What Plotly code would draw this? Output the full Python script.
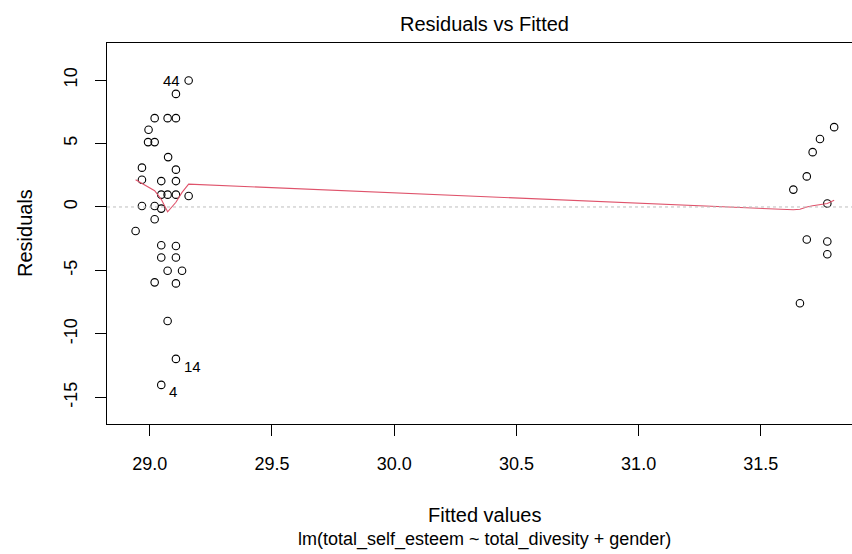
import plotly.graph_objects as go

# Fitted values and residuals
fitted = [29.159, 29.107, 29.020, 29.073, 29.107, 28.995, 28.993, 29.020, 29.075, 28.968,
          29.107, 28.968, 29.047, 29.107, 29.047, 29.073, 29.107, 29.159, 28.968, 29.020,
          29.047, 29.020, 28.942, 29.047, 29.107, 29.047, 29.107, 29.073, 29.132, 29.020,
          29.107, 29.073, 29.107, 29.047,
          31.800, 31.742, 31.712, 31.688, 31.633, 31.772, 31.688, 31.772, 31.772, 31.660]
residuals = [9.96, 8.91, 7.0, 7.0, 7.0, 6.08, 5.11, 5.11, 3.93, 3.1,
             2.94, 2.15, 2.04, 2.04, 0.97, 0.97, 0.97, 0.86, 0.08, 0.08,
             -0.13, -0.97, -1.89, -3.01, -3.07, -3.98, -3.98, -5.03, -5.03, -5.94,
             -6.02, -8.99, -11.97, -14.02,
             6.29, 5.35, 4.32, 2.41, 1.37, 0.27, -2.56, -2.72, -3.72, -7.59]

# Lowess smoother
smooth_x = [28.942, 28.968, 28.993, 29.020, 29.047, 29.073, 29.107, 29.132, 29.159,
            31.633, 31.660, 31.688, 31.712, 31.742, 31.772, 31.800]
smooth_y = [2.15, 1.84, 1.55, 1.28, 0.6, -0.38, 0.37, 1.15, 1.80,
            -0.22, -0.18, 0.0, 0.09, 0.17, 0.27, 0.53]

# Labelled observations
label_ids = ["44", "14", "4"]
label_x = [29.159, 29.107, 29.047]
label_y = [9.96, -11.97, -14.02]

x_ticks = [29.0, 29.5, 30.0, 30.5, 31.0, 31.5]
x_tick_text = ["29.0", "29.5", "30.0", "30.5", "31.0", "31.5"]
y_ticks = [10, 5, 0, -5, -10, -15]
y_tick_text = ["10", "5", "0", "-5", "-10", "-15"]

FONT = "Liberation Sans, Arial, sans-serif"
TXT = 20
TICK = 18

fig = go.Figure()
fig.add_shape(type="line", xref="paper", x0=0, x1=1, yref="y", y0=0, y1=0,
              line=dict(color="#BEBEBE", width=1, dash="dot"))
fig.add_trace(go.Scatter(x=fitted, y=residuals, mode="markers",
                         marker=dict(symbol="circle-open", size=7.5, color="black",
                                     line=dict(width=1.1, color="black")),
                         hoverinfo="x+y"))
fig.add_trace(go.Scatter(x=smooth_x, y=smooth_y, mode="lines",
                         line=dict(color="#DF536B", width=1.1)))

shifts = [(-7, 0, "right"), (6, -8, "left"), (6, -7, "left")]
for lid, lx, ly, (xs, ys, xa) in zip(label_ids, label_x, label_y, shifts):
    fig.add_annotation(x=lx, y=ly, text=lid, showarrow=False, xanchor=xa, yanchor="middle",
                       xshift=xs, yshift=ys, font=dict(family=FONT, size=15, color="black"))

L, R, T, B = 107, 0, 43, 130
W, H = 852, 554
pw = W - L - R
ph = H - T - B

def px_x(px):
    return (px - L) / pw

def px_y(py):
    return 1 - (py - T) / ph

fig.add_annotation(xref="paper", yref="paper", x=px_x(484), y=px_y(24), text="Residuals vs Fitted",
                   showarrow=False, xanchor="center", yanchor="middle",
                   font=dict(family=FONT, size=TXT, color="black"))
fig.add_annotation(xref="paper", yref="paper", x=px_x(484), y=px_y(515), text="Fitted values",
                   showarrow=False, xanchor="center", yanchor="middle",
                   font=dict(family=FONT, size=TXT, color="black"))
fig.add_annotation(xref="paper", yref="paper", x=px_x(484), y=px_y(539),
                   text="lm(total_self_esteem ~ total_divesity + gender)",
                   showarrow=False, xanchor="center", yanchor="middle",
                   font=dict(family=FONT, size=18, color="black"))
fig.add_annotation(xref="paper", yref="paper", x=px_x(25), y=px_y(233), text="Residuals",
                   showarrow=False, xanchor="center", yanchor="middle", textangle=-90,
                   font=dict(family=FONT, size=TXT, color="black"))

fig.update_layout(
    width=W, height=H, margin=dict(l=L, r=R, t=T, b=B, pad=0),
    paper_bgcolor="white", plot_bgcolor="white", showlegend=False,
    xaxis=dict(range=[28.825, 31.873], tickvals=x_ticks, ticktext=x_tick_text,
               showgrid=False, zeroline=False, showline=True, linecolor="black", linewidth=1,
               mirror=True, ticks="outside", ticklen=11, tickcolor="black",
               ticklabelstandoff=12,
               tickfont=dict(family=FONT, size=TICK, color="black")),
    yaxis=dict(range=[-17.10, 12.92], tickvals=y_ticks, ticktext=y_tick_text,
               showgrid=False, zeroline=False, showline=True, linecolor="black", linewidth=1,
               ticks="outside", ticklen=11, tickcolor="black", tickangle=-90,
               ticklabelstandoff=11,
               tickfont=dict(family=FONT, size=TICK, color="black")),
)

fig.write_html("out.html")
